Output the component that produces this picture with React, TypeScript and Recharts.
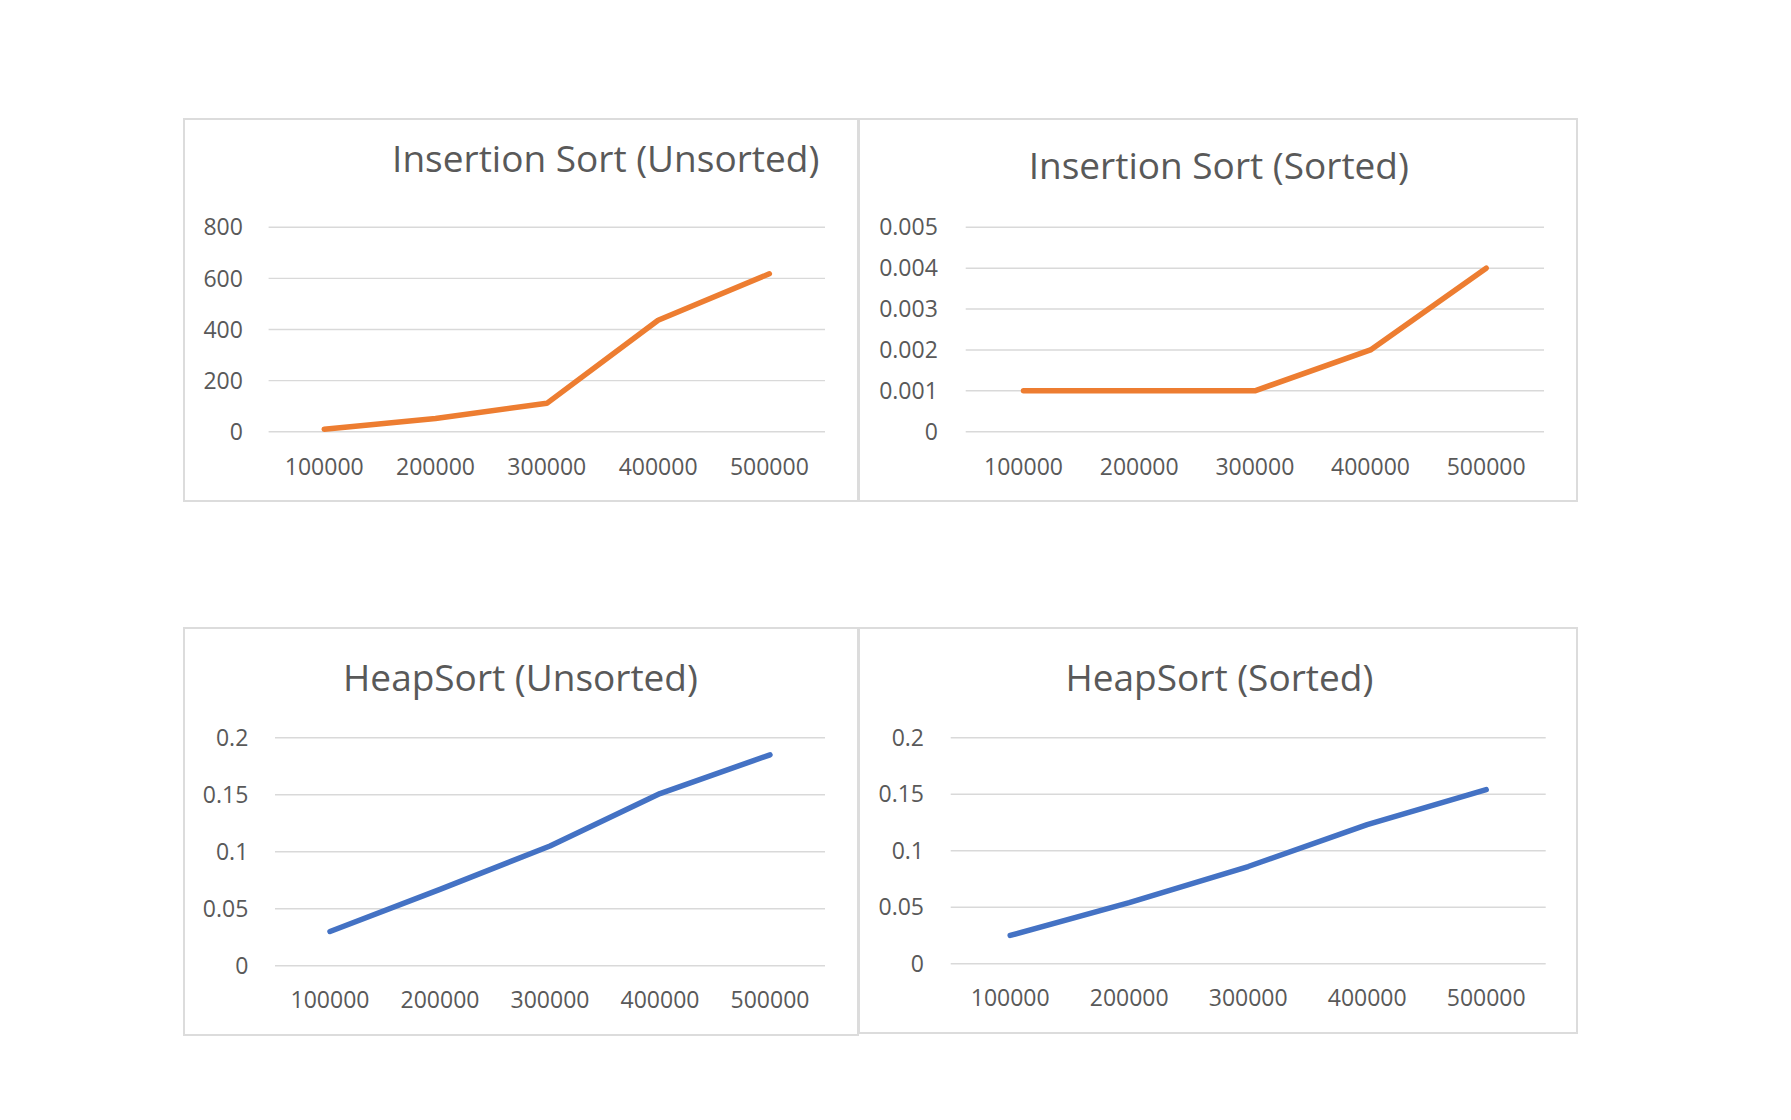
import React from 'react';
import { LineChart, Line, XAxis, YAxis, CartesianGrid } from 'recharts';

const sizes = ['100000', '200000', '300000', '400000', '500000'];
const insertionUnsorted = [10, 52, 111, 436, 618];
const insertionSorted = [0.001, 0.001, 0.001, 0.002, 0.004];
const heapUnsorted = [0.03, 0.067, 0.105, 0.151, 0.185];
const heapSorted = [0.025, 0.054, 0.086, 0.123, 0.154];

const ticksInsUnsorted = [0, 200, 400, 600, 800];
const ticksInsSorted = [0, 0.001, 0.002, 0.003, 0.004, 0.005];
const ticksHeap = [0, 0.05, 0.1, 0.15, 0.2];

const ORANGE = '#ED7D31';
const BLUE = '#4472C4';
const TEXT = '#595959';
const GRID = '#d9d9d9';
const FONT = "'Open Sans', 'Noto Sans', sans-serif";

type PanelProps = {
  left: number;
  top: number;
  width: number;
  height: number;
  title: string;
  titleX: number;
  titleY: number;
  values: number[];
  ticks: number[];
  color: string;
  plotLeft: number;
  plotRight: number;
  plotTop: number;
  plotBottom: number;
  labelGap: number;
  xLabelGap: number;
};

function Panel(p: PanelProps) {
  const data = sizes.map((s, i) => ({ size: s, value: p.values[i] }));
  const plotWidth = p.width - p.plotLeft - p.plotRight;
  const pad = plotWidth / 10;
  return (
    <div style={{ position: 'absolute', left: p.left, top: p.top, width: p.width, height: p.height }}>
      <div
        style={{
          position: 'absolute',
          left: 0,
          top: 0,
          width: p.width,
          height: p.height,
          border: '2px solid #dcdcdc',
          boxSizing: 'border-box',
        }}
      />
      <div style={{ position: 'absolute', left: 0, top: 0 }}>
        <LineChart
          width={p.width}
          height={p.height}
          data={data}
          margin={{ left: 0, right: p.plotRight, top: p.plotTop, bottom: 0 }}
        >
          <CartesianGrid vertical={false} stroke={GRID} strokeWidth={1.4} />
          <XAxis
            dataKey="size"
            type="category"
            height={p.plotBottom}
            axisLine={false}
            tickLine={false}
            tickSize={0}
            tickMargin={p.xLabelGap}
            interval={0}
            padding={{ left: pad, right: pad }}
            tick={{ fill: TEXT, fontSize: 23, fontFamily: FONT }}
          />
          <YAxis
            type="number"
            width={p.plotLeft}
            domain={[p.ticks[0], p.ticks[p.ticks.length - 1]]}
            ticks={p.ticks}
            interval={0}
            axisLine={false}
            tickLine={false}
            tickSize={0}
            tickMargin={p.labelGap}
            tick={{ fill: TEXT, fontSize: 23, fontFamily: FONT }}
          />
          <Line
            type="linear"
            dataKey="value"
            stroke={p.color}
            strokeWidth={5.5}
            strokeLinecap="round"
            strokeLinejoin="round"
            dot={false}
            activeDot={false}
            isAnimationActive={false}
          />
        </LineChart>
      </div>
      <svg
        width={p.width}
        height={p.height}
        style={{ position: 'absolute', left: 0, top: 0, pointerEvents: 'none' }}
      >
        <text
          x={p.titleX}
          y={p.titleY}
          textAnchor="middle"
          fill={TEXT}
          fontSize={37}
          fontFamily={FONT}
        >
          {p.title}
        </text>
      </svg>
    </div>
  );
}

export default function App() {
  return (
    <div
      style={{
        position: 'absolute',
        left: 0,
        top: 0,
        width: 1791,
        height: 1120,
        background: '#ffffff',
        overflow: 'hidden',
      }}
    >
      <Panel
        left={183}
        top={118}
        width={676}
        height={384}
        title="Insertion Sort (Unsorted)"
        titleX={422.7}
        titleY={53.7}
        values={insertionUnsorted}
        ticks={ticksInsUnsorted}
        color={ORANGE}
        plotLeft={85.6}
        plotRight={34}
        plotTop={109.3}
        plotBottom={70.3}
        labelGap={25.7}
        xLabelGap={26.6}
      />
      <Panel
        left={858}
        top={118}
        width={720}
        height={384}
        title="Insertion Sort (Sorted)"
        titleX={360.8}
        titleY={61.3}
        values={insertionSorted}
        ticks={ticksInsSorted}
        color={ORANGE}
        plotLeft={107.7}
        plotRight={34}
        plotTop={109.3}
        plotBottom={70.3}
        labelGap={27.9}
        xLabelGap={26.6}
      />
      <Panel
        left={183}
        top={627}
        width={676}
        height={409}
        title="HeapSort (Unsorted)"
        titleX={337.5}
        titleY={63.7}
        values={heapUnsorted}
        ticks={ticksHeap}
        color={BLUE}
        plotLeft={92}
        plotRight={34}
        plotTop={110.7}
        plotBottom={70.3}
        labelGap={26.7}
        xLabelGap={26}
      />
      <Panel
        left={858}
        top={627}
        width={720}
        height={407}
        title="HeapSort (Sorted)"
        titleX={361.4}
        titleY={63.7}
        values={heapSorted}
        ticks={ticksHeap}
        color={BLUE}
        plotLeft={92.7}
        plotRight={32.3}
        plotTop={110.7}
        plotBottom={70.3}
        labelGap={26.7}
        xLabelGap={26}
      />
    </div>
  );
}
